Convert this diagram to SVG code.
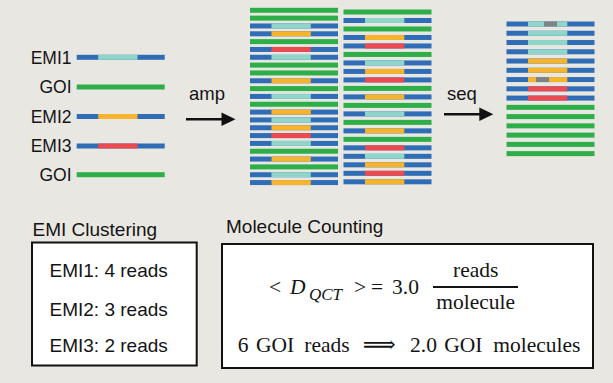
<svg xmlns="http://www.w3.org/2000/svg" xmlns:xlink="http://www.w3.org/1999/xlink" width="613" height="383" viewBox="0 0 613 383">
<style>
.bg{fill:#e9e7e2}
.b{fill:#2f6db6}.c{fill:#8fd5c9}.o{fill:#f6b42c}.r{fill:#ea4a50}.g{fill:#2eae48}.gy{fill:#7f8285}
.sans{font-family:"Liberation Sans",Arial,Helvetica,sans-serif;fill:#141414}
.serif{font-family:"Liberation Serif","Times New Roman",serif;fill:#141414}
.box{fill:#ffffff;stroke:#111;stroke-width:2}
.arr{stroke:#111;stroke-width:2.5;fill:none}
.head{fill:#111}
</style>
<defs>
<g id="G"><rect class="g" x="0" y="-2.5" width="88" height="5"/></g>
<g id="C"><rect class="b" x="0" y="-2.5" width="88" height="5"/><rect class="c" x="21.5" y="-2.5" width="39.3" height="5"/></g>
<g id="O"><rect class="b" x="0" y="-2.5" width="88" height="5"/><rect class="o" x="21.5" y="-2.5" width="39.3" height="5"/></g>
<g id="R"><rect class="b" x="0" y="-2.5" width="88" height="5"/><rect class="r" x="21.5" y="-2.5" width="39.3" height="5"/></g>
</defs>
<rect class="bg" x="0" y="0" width="613" height="383"/>

<g id="templates" class="sans" font-size="17.5" text-anchor="end">
<text x="71.5" y="63.5">EMI1</text>
<use href="#C" x="76.7" y="57.3"/>
<text x="71.5" y="93.3">GOI</text>
<use href="#G" x="76.7" y="87"/>
<text x="71.5" y="122.8">EMI2</text>
<use href="#O" x="76.7" y="116.5"/>
<text x="71.5" y="152.3">EMI3</text>
<use href="#R" x="76.7" y="146"/>
<text x="71.5" y="181">GOI</text>
<use href="#G" x="76.7" y="174.7"/>
</g>

<g id="amplified-1">
<use href="#G" x="250" y="10.3"/>
<use href="#G" x="250" y="18.13"/>
<use href="#C" x="250" y="25.96"/>
<use href="#O" x="250" y="33.79"/>
<use href="#G" x="250" y="41.62"/>
<use href="#R" x="250" y="49.45"/>
<use href="#C" x="250" y="57.28"/>
<use href="#G" x="250" y="65.11"/>
<use href="#G" x="250" y="72.94"/>
<use href="#O" x="250" y="80.77"/>
<use href="#G" x="250" y="88.6"/>
<use href="#C" x="250" y="96.43"/>
<use href="#G" x="250" y="104.26"/>
<use href="#O" x="250" y="112.09"/>
<use href="#C" x="250" y="119.92"/>
<use href="#O" x="250" y="127.75"/>
<use href="#R" x="250" y="135.58"/>
<use href="#C" x="250" y="143.41"/>
<use href="#G" x="250" y="151.24"/>
<use href="#O" x="250" y="159.07"/>
<use href="#G" x="250" y="166.9"/>
<use href="#C" x="250" y="174.73"/>
<use href="#O" x="250" y="182.56"/>
</g>

<g id="amplified-2">
<use href="#G" x="343.5" y="12"/>
<use href="#C" x="343.5" y="20.49"/>
<use href="#G" x="343.5" y="28.98"/>
<use href="#O" x="343.5" y="37.47"/>
<use href="#R" x="343.5" y="45.96"/>
<use href="#G" x="343.5" y="54.45"/>
<use href="#C" x="343.5" y="62.94"/>
<use href="#O" x="343.5" y="71.43"/>
<use href="#R" x="343.5" y="79.92"/>
<use href="#G" x="343.5" y="88.41"/>
<use href="#O" x="343.5" y="96.9"/>
<use href="#G" x="343.5" y="105.39"/>
<use href="#C" x="343.5" y="113.88"/>
<use href="#G" x="343.5" y="122.37"/>
<use href="#O" x="343.5" y="130.86"/>
<use href="#G" x="343.5" y="139.35"/>
<use href="#R" x="343.5" y="147.84"/>
<use href="#C" x="343.5" y="156.33"/>
<use href="#O" x="343.5" y="164.82"/>
<use href="#R" x="343.5" y="173.31"/>
<use href="#O" x="343.5" y="181.8"/>
</g>

<g id="sequenced">
<use href="#C" x="506.5" y="24"/>
<rect class="gy" x="544" y="21.5" width="13" height="5"/>
<use href="#C" x="506.5" y="33.26"/>
<use href="#C" x="506.5" y="42.52"/>
<use href="#C" x="506.5" y="51.78"/>
<use href="#O" x="506.5" y="61.04"/>
<use href="#O" x="506.5" y="70.3"/>
<use href="#O" x="506.5" y="79.56"/>
<rect class="gy" x="536" y="77.06" width="13" height="5"/>
<use href="#R" x="506.5" y="88.82"/>
<use href="#R" x="506.5" y="98.08"/>
<use href="#G" x="506.5" y="107.34"/>
<use href="#G" x="506.5" y="116.6"/>
<use href="#G" x="506.5" y="125.86"/>
<use href="#G" x="506.5" y="135.12"/>
<use href="#G" x="506.5" y="144.38"/>
<use href="#G" x="506.5" y="153.64"/>
</g>

<g id="connectors">
<g id="amp-arrow">
<line class="arr" x1="186" y1="119.3" x2="224" y2="119.3"/>
<polygon class="head" points="221.5,112.6 235.5,119.3 221.5,126"/>
<text class="sans" font-size="18.5" x="189" y="99.5">amp</text>
</g>
<g id="seq-arrow">
<line class="arr" x1="444" y1="114.3" x2="482" y2="114.3"/>
<polygon class="head" points="479.3,107.6 493.3,114.3 479.3,121"/>
<text class="sans" font-size="18.5" x="447" y="100">seq</text>
</g>
</g>

<g id="emi-clustering">
<text class="sans" font-size="19" x="32.5" y="236">EMI Clustering</text>
<rect class="box" x="32" y="242.5" width="164.7" height="123"/>
<text class="sans" font-size="19" x="49.5" y="277">EMI1: 4 reads</text>
<text class="sans" font-size="19" x="49.5" y="316">EMI2: 3 reads</text>
<text class="sans" font-size="19" x="49.5" y="352">EMI3: 2 reads</text>
</g>

<g id="molecule-counting">
<text class="sans" font-size="19" x="226" y="233">Molecule Counting</text>
<rect class="box" x="222" y="244" width="371" height="124"/>
<g class="serif" font-size="21.5">
<text x="269" y="294">&lt;</text>
<text x="290" y="294" font-style="italic">D</text>
<text x="309" y="300" font-style="italic" font-size="17">QCT</text>
<text x="354" y="294">&gt;</text>
<text x="371" y="294">=</text>
<text x="392" y="294">3.0</text>
<text x="475.7" y="277" text-anchor="middle">reads</text>
<rect x="433" y="286" width="85" height="2" fill="#141414"/>
<text x="475.7" y="308.7" text-anchor="middle">molecule</text>
<text x="237.7" y="352">6</text>
<text x="256" y="352">GOI</text>
<text x="304.3" y="352">reads</text>
<text x="379.3" y="352" text-anchor="middle" font-family="DejaVu Serif" font-size="23">⟹</text>
<text x="410" y="352">2.0</text>
<text x="444.3" y="352">GOI</text>
<text x="493.3" y="352">molecules</text>
</g>
</g>
</svg>
